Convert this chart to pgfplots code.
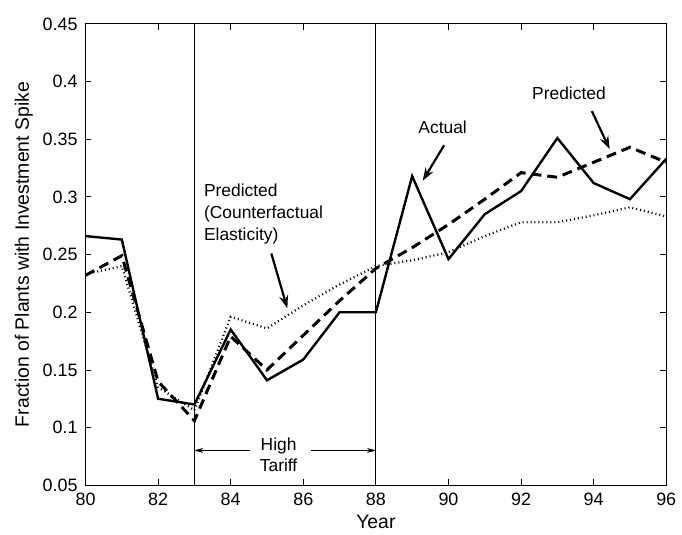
\documentclass[border=0pt]{standalone}
\usepackage{pgfplots}
\pgfplotsset{compat=1.18}
\usepackage{fontspec}
\setmainfont{Liberation Sans}
\usetikzlibrary{arrows.meta}
\begin{document}
\fontsize{17.5}{21}\selectfont
\begin{tikzpicture}
\begin{axis}[
  scale only axis, width=584pt, height=464pt,
  xmin=80, xmax=96, ymin=0.05, ymax=0.45,
  xtick={80,82,...,96},
  ytick={0.05,0.1,0.15,0.2,0.25,0.3,0.35,0.4,0.45},
  yticklabels={0.05,0.1,0.15,0.2,0.25,0.3,0.35,0.4,0.45},
  /pgf/number format/assume math mode=true,
  tick align=inside, major tick length=6pt,
  tick style={line width=0.8pt, black},
  axis line style={line width=0.9pt},
  ticklabel style={font=\fontsize{18}{21}\selectfont},
  xticklabel style={yshift=-2pt},
  yticklabel style={xshift=-2pt},
  label style={font=\fontsize{19.5}{23}\selectfont},
  xlabel={Year}, ylabel={Fraction of Plants with Investment Spike},
  xlabel style={yshift=3pt},
  ylabel style={yshift=-2pt},
  clip=false,
]
% vertical lines
\addplot[black, line width=0.9pt] coordinates {(83,0.05) (83,0.45)};
\addplot[black, line width=0.9pt] coordinates {(88,0.05) (88,0.45)};
% Actual
\addplot[black, line width=2.4pt] coordinates {
(80,0.266) (81,0.263) (82,0.125) (83,0.120) (84,0.185) (85,0.141) (86,0.159)
(87,0.200) (88,0.200) (89,0.318) (90,0.246) (91,0.285) (92,0.305) (93,0.351)
(94,0.312) (95,0.298) (96,0.333)};
% Predicted
\addplot[black, line width=3pt, dash pattern=on 10pt off 6pt] coordinates {
(80,0.232) (81,0.249) (82,0.140) (83,0.106) (84,0.179) (85,0.150) (86,0.180)
(87,0.210) (88,0.238) (89,0.256) (90,0.276) (91,0.298) (92,0.321) (93,0.317)
(94,0.330) (95,0.343) (96,0.330)};
% Counterfactual
\addplot[black, line width=2.3pt, dash pattern=on 1pt off 3pt] coordinates {
(80,0.233) (81,0.240) (82,0.135) (83,0.115) (84,0.196) (85,0.186) (86,0.206)
(87,0.224) (88,0.240) (89,0.245) (90,0.252) (91,0.266) (92,0.278) (93,0.278)
(94,0.284) (95,0.291) (96,0.283)};
% annotations
\node[anchor=west, align=left, inner sep=0pt, font=\fontsize{17.5}{22}\selectfont] at (axis cs:83.26,0.2853)
  {Predicted\\(Counterfactual\\Elasticity)};
\draw[line width=2.2pt, -{Stealth[length=13pt,width=9pt]}] (axis cs:85.12,0.2509) -- (axis cs:85.56,0.2034);
\node[inner sep=0pt] at (axis cs:89.84,0.3603) {Actual};
\draw[line width=2.2pt, -{Stealth[length=13pt,width=9pt]}] (axis cs:89.88,0.3448) -- (axis cs:89.29,0.314);
\node[inner sep=0pt] at (axis cs:93.32,0.3897) {Predicted};
\draw[line width=2.2pt, -{Stealth[length=13pt,width=9pt]}] (axis cs:93.95,0.3744) -- (axis cs:94.44,0.3414);
\node[align=center, inner sep=0pt, font=\fontsize{17.5}{21}\selectfont] at (axis cs:85.32,0.0767) {High\\Tariff};
\draw[line width=0.8pt, -{Stealth[length=9pt,width=5pt]}] (axis cs:84.54,0.0802) -- (axis cs:83,0.0802);
\draw[line width=0.8pt, -{Stealth[length=9pt,width=5pt]}] (axis cs:86.21,0.0802) -- (axis cs:88,0.0802);
\end{axis}
\path (current axis.south west) ++(-86pt,-49pt) rectangle ++(682pt,537pt);
\end{tikzpicture}
\end{document}
